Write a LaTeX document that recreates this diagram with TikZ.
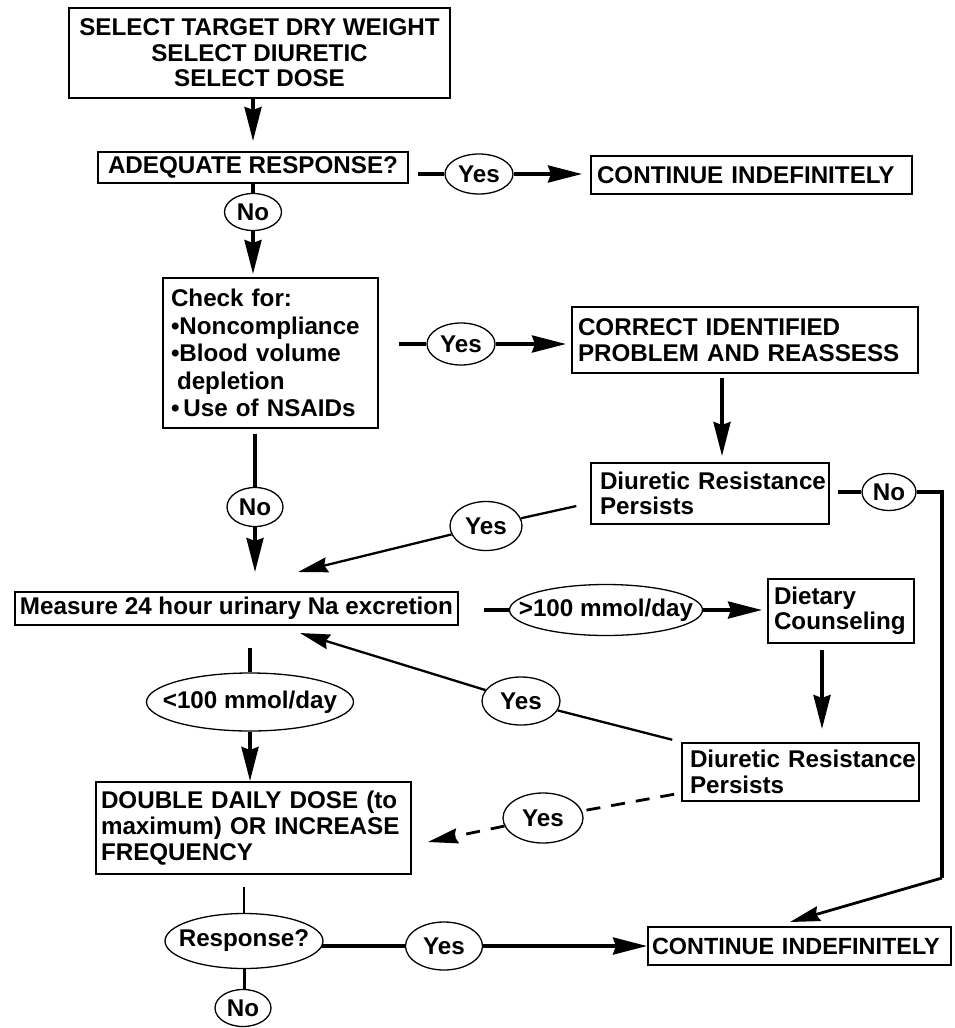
\documentclass[tikz,border=0pt]{standalone}
\usepackage{fontspec}
\setmainfont{Liberation Sans}
\usetikzlibrary{arrows.meta,shapes.geometric,backgrounds,calc}
\newcommand{\ovtext}[1]{\makebox[0pt]{#1}}
\begin{document}
\begin{tikzpicture}[x=1pt,y=-1pt,
  txt/.style={font=\fontsize{24.2}{25.5}\selectfont\bfseries},
  box/.style={txt, draw, line width=2pt, rectangle, inner sep=0pt, fill=white},
  oval/.style={txt, draw, ellipse, line width=1.3pt, inner sep=0pt, fill=white},
  thk/.style={line width=3.6pt},
  thn/.style={line width=2.3pt},
  arr/.style={-{Stealth[length=34pt,width=17pt,inset=3pt]}},
  arrs/.style={-{Stealth[length=30pt,width=15pt,inset=3pt]}},
  dsh/.style={dash pattern=on 14pt off 11pt},
]
\useasboundingbox (0,0) rectangle (955,1028);

% boxes
\node[box, minimum width=381pt, minimum height=90pt, align=center] (b1) at (259.5,53)
  {SELECT TARGET DRY WEIGHT\\SELECT DIURETIC\\SELECT DOSE};
\node[box, minimum width=310pt, minimum height=31pt, align=center] (b2) at (253,167.5)
  {ADEQUATE RESPONSE?};
\node[box, minimum width=321pt, minimum height=38pt, text width=309pt, align=left] (cont1) at (751.5,175)
  {\mbox{CONTINUE INDEFINITELY}};
\node[box, minimum width=215pt, minimum height=150pt, text width=199pt, align=left,
      font=\fontsize{24.2}{27.5}\selectfont\bfseries] (check) at (270.5,353)
  {Check for:\\•Noncompliance\\•Blood volume\\\hspace*{6pt}depletion\\•\,Use of NSAIDs};
\node[box, minimum width=346pt, minimum height=66pt, text width=334pt, align=left] (correct) at (745,340)
  {CORRECT IDENTIFIED\\\mbox{PROBLEM AND REASSESS}};
\node[box, minimum width=238pt, minimum height=61pt, text width=220pt, align=left] (drp1) at (710,493.5)
  {\mbox{Diuretic Resistance}\\Persists};
\node[box, minimum width=443pt, minimum height=33pt, align=center] (measure) at (236.5,608.5)
  {Measure 24 hour urinary Na excretion};
\node[box, minimum width=146pt, minimum height=64pt, text width=134pt, align=left] (diet) at (841,611)
  {Dietary\\\mbox{Counseling}};
\node[box, minimum width=237pt, minimum height=58pt, text width=221pt, align=left] (drp2) at (800.5,772)
  {\mbox{Diuretic Resistance}\\Persists};
\node[box, minimum width=315pt, minimum height=92pt, text width=305pt, align=left,
      font=\fontsize{24.2}{26}\selectfont\bfseries] (double) at (253.5,828)
  {\mbox{DOUBLE DAILY DOSE (to}\\\mbox{maximum) OR INCREASE}\\FREQUENCY};
\node[box, minimum width=303pt, minimum height=38pt, text width=295pt, align=left,
      font=\fontsize{23.4}{25.5}\selectfont\bfseries] (cont2) at (799.5,946)
  {\mbox{CONTINUE INDEFINITELY}};

% ovals
\node[oval, minimum width=57pt, minimum height=37pt] (no1) at (253,212) {\ovtext{No}};
\node[oval, minimum width=68pt, minimum height=40pt] (yes1) at (479,174) {\ovtext{Yes}};
\node[oval, minimum width=68pt, minimum height=42pt] (yes2) at (461,344) {\ovtext{Yes}};
\node[oval, minimum width=56pt, minimum height=39pt] (no2) at (255,507) {\ovtext{No}};
\node[oval, minimum width=72pt, minimum height=49pt] (yesA) at (486,526) {\ovtext{Yes}};
\node[oval, minimum width=54pt, minimum height=37pt] (noR) at (889,492) {\ovtext{No}};
\node[oval, minimum width=193pt, minimum height=51pt] (gt100) at (606,610) {\ovtext{>100 mmol/day}};
\node[oval, minimum width=78pt, minimum height=48pt] (yesB) at (521,701) {\ovtext{Yes}};
\node[oval, minimum width=207pt, minimum height=58pt] (lt100) at (250,702) {\ovtext{<100 mmol/day}};
\node[oval, minimum width=80pt, minimum height=50pt] (yesC) at (543,818) {\ovtext{Yes}};
\node[oval, minimum width=158pt, minimum height=55pt] (resp) at (244,941) {\ovtext{Response?}};
\node[oval, minimum width=77pt, minimum height=48pt] (yesD) at (444,946) {\ovtext{Yes}};
\node[oval, minimum width=56pt, minimum height=37pt] (no3) at (243,1008) {\ovtext{No}};

\coordinate (cR) at (942,878);
\coordinate (tipA) at (298,572);
\coordinate (tipB) at (300,633);
\coordinate (tipC) at (428,842);

\begin{pgfonlayer}{background}
\draw[thk,arr,shorten >=10pt] (b1.south -| b2.north) -- (b2.north);
\draw[thk] (b2.south -| no1.north) -- (no1.north);
\draw[thk,arr,shorten >=3pt] (no1.south) -- (no1.south |- check.north);
\draw[thk,shorten <=9pt] (b2.east |- yes1.west) -- (yes1.west);
\draw[thk,arr,shorten >=8pt] (yes1.east) -- (yes1.east -| cont1.west);
\draw[thk,shorten <=20pt] (check.east |- yes2.west) -- (yes2.west);
\draw[thk,arr,shorten >=5pt] (yes2.east) -- (yes2.east -| correct.west);
\draw[thk,arr,shorten <=4pt,shorten >=6pt] ([xshift=-23pt]correct.south) -- ([xshift=-23pt]correct.south |- drp1.north);
\draw[thk,shorten <=8pt] (drp1.east |- noR.west) -- (noR.west);
\draw[thk] (noR.east) -- (cR |- noR.east) -- (cR);
\draw[line width=2.8pt,arrs] (cR) -- ([xshift=-9.5pt,yshift=4pt]cont2.north);
\draw[thk,shorten <=5pt] (no2.north |- check.south) -- (no2.north);
\draw[thk,arr,shorten >=19pt] (no2.south) -- (no2.south |- measure.north);
\draw[thn,shorten <=14pt] ([yshift=-9.5pt]drp1.west) -- (yesA);
\draw[thn,arrs] (yesA) -- (tipA);
\draw[thk,shorten <=25pt] (measure.east |- gt100.west) -- (gt100.west);
\draw[thk,arr,shorten >=5pt] (gt100.east) -- (gt100.east -| diet.west);
\draw[thk,arr,shorten <=6pt,shorten >=13pt] ([xshift=-19pt]diet.south) -- ([xshift=-19pt]diet.south |- drp2.north);
\draw[thn,shorten <=9pt] (drp2.north west) -- (yesB);
\draw[thn,arrs] (yesB) -- (tipB);
\draw[thk,shorten <=22pt] (lt100.north |- measure.south) -- (lt100.north);
\draw[thk,arr] (lt100.south) -- (lt100.south |- double.north);
\draw[line width=2.8pt,dsh,shorten <=7pt] ([yshift=-21pt]drp2.west) -- (yesC);
\draw[line width=2.8pt,dsh,arrs] (yesC) -- (tipC);
\draw[thn,shorten <=12pt] (resp.north |- double.south) -- (resp.north);
\draw[thk] (resp.center |- yesD.west) -- (yesD.west);
\draw[thk,arr] (yesD.east) -- (yesD.east -| cont2.west);
\draw[line width=3pt] (resp.south) -- (resp.south |- no3.north);
\end{pgfonlayer}
\end{tikzpicture}
\end{document}
